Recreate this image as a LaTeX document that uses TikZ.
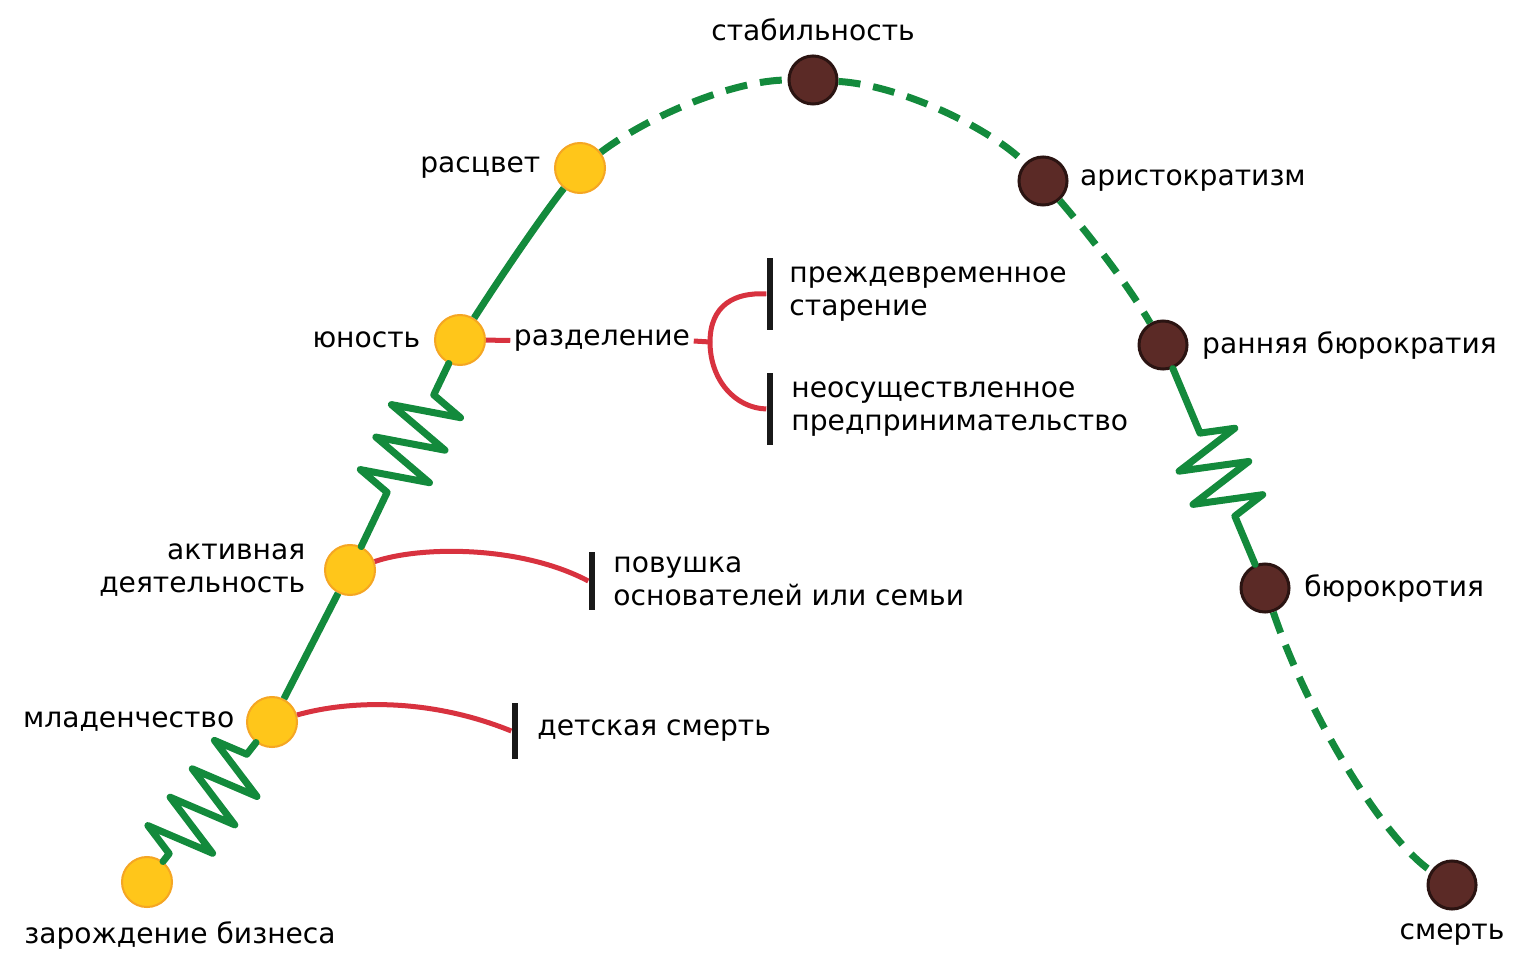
\documentclass[tikz,border=0pt]{standalone}
\usepackage{fontspec}
\setmainfont{DejaVu Sans}
\usepackage{tikz}
\usetikzlibrary{positioning,decorations.pathmorphing}
\definecolor{lifegreen}{HTML}{138A3C}
\definecolor{dotyellow}{HTML}{FFC61A}
\definecolor{dotorange}{HTML}{F5A623}
\definecolor{dotbrown}{HTML}{5B2A26}
\definecolor{dotdark}{HTML}{2B1412}
\definecolor{riskred}{HTML}{D8323F}

\tikzset{
  ydot/.style={circle,fill=dotyellow,draw=dotorange,line width=0.02cm,minimum size=0.5cm,inner sep=0},
  bdot/.style={circle,fill=dotbrown,draw=dotdark,line width=0.03cm,minimum size=0.48cm,inner sep=0},
  lbl/.style={font=\fontsize{8}{9.4}\selectfont,inner sep=0.03cm},
  life/.style={draw=lifegreen,line width=0.07cm},
  lifedash/.style={life,dash pattern=on 0.22cm off 0.13cm},
  spring/.style={life,line join=round,line cap=round,decorate,decoration={zigzag,segment length=0.36cm,amplitude=0.34cm}},
  risk/.style={draw=riskred,line width=0.05cm},
  stopbar/.style={fill=black!90,minimum width=0.06cm,minimum height=#1,inner sep=0},
}

\begin{document}
\begin{tikzpicture}[x=0.01cm,y=-0.01cm]
\useasboundingbox (0,0) rectangle (1516,952);

\node[ydot] (zar) at (147,882) {};
\node[ydot] (mlad) at (272,722) {};
\node[ydot] (akt) at (350,570) {};
\node[ydot] (yun) at (460,340) {};
\node[ydot] (rasc) at (580,168) {};
\node[bdot] (stab) at (813,80) {};
\node[bdot] (arist) at (1043,181) {};
\node[bdot] (rbur) at (1163,345) {};
\node[bdot] (bur) at (1265,588) {};
\node[bdot] (smert) at (1452,885) {};

\draw[spring,decoration={pre length=0.1cm,post length=0.12cm}] (zar) -- (mlad);
\draw[life] (mlad) -- (akt);
\draw[spring,decoration={pre length=0.6cm,post length=0.24cm}] (akt) -- (yun);
\draw[life] (yun) .. controls (505,270) and (545,212) .. (rasc);
\draw[lifedash] (rasc) .. controls (650,115) and (735,80) .. (stab);
\draw[lifedash] (stab) .. controls (900,85) and (990,128) .. (arist);
\draw[lifedash] (arist) .. controls (1085,230) and (1125,280) .. (rbur);
\draw[spring,decoration={pre length=0.7cm,post length=0.39cm}] (rbur) -- (bur);
\draw[lifedash] (bur) .. controls (1310,720) and (1385,840) .. (smert);

\node[lbl,below=0.1cm of smert] {смерть};
\node[lbl] at (180,935) {зарождение бизнеса};
\node[lbl,left=0.08cm of mlad] {младенчество};
\node[lbl,left=0.15cm of akt,align=right] {активная\\деятельность};
\node[lbl,left=0.1cm of yun] {юность};
\node[lbl,left=0.1cm of rasc] {расцвет};
\node[lbl,above=0.1cm of stab] {стабильность};
\node[lbl,right=0.08cm of arist] {аристократизм};
\node[lbl,right=0.1cm of rbur] {ранняя бюрократия};
\node[lbl,right=0.1cm of bur] {бюрокротия};

\node[stopbar=0.56cm] (bar1) at (515,731) {};
\node[stopbar=0.57cm] (bar2) at (592,581) {};
\node[stopbar=0.72cm] (bar3) at (770,294) {};
\node[stopbar=0.72cm] (bar4) at (770,409) {};

\node[lbl] (razd) at (602,341) {разделение};
\coordinate (split) at (710,342);

\draw[risk] (mlad) .. controls (350,700) and (430,698) .. (bar1.west);
\draw[risk] (akt) .. controls (420,546) and (520,545) .. (bar2.west);
\draw[risk] (yun) -- (razd);
\draw[risk] (razd.east) -- (split);
\draw[risk] (split) .. controls (710,305) and (735,292) .. (bar3.west);
\draw[risk] (split) .. controls (710,380) and (735,408) .. (bar4.west);

\node[lbl,right=0.15cm of bar1] {детская смерть};
\node[lbl,right=0.14cm of bar2,align=left] {повушка\\основателей или семьи};
\node[lbl,right=0.12cm of bar3,align=left] {преждевременное\\старение};
\node[lbl,right=0.14cm of bar4,align=left] {неосуществленное\\предпринимательство};
\end{tikzpicture}
\end{document}
